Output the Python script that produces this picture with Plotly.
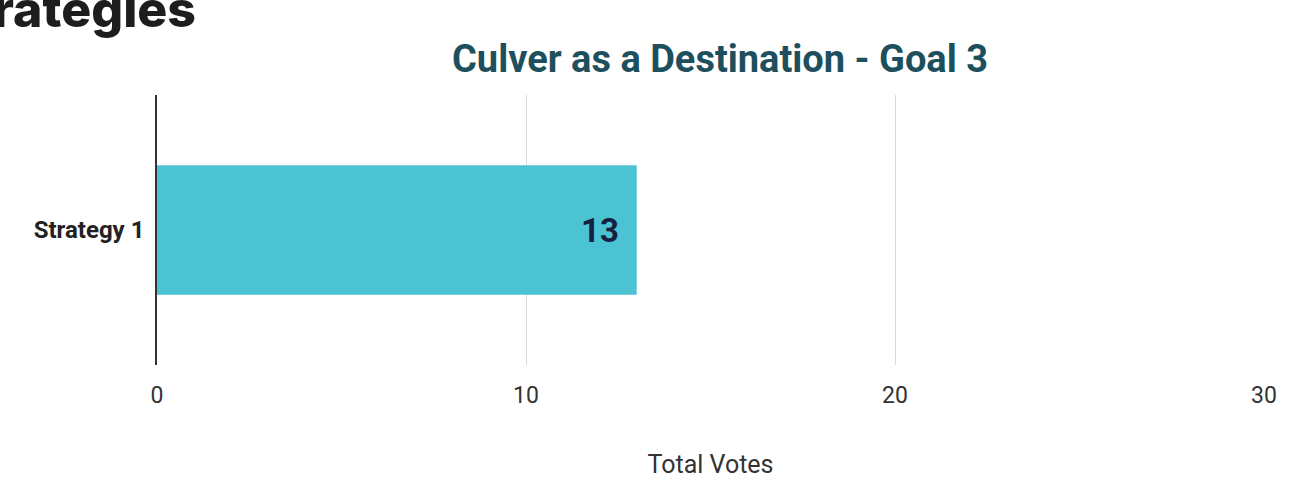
import plotly.graph_objects as go

# Votes per strategy for Goal 3
strategies = ["Strategy 1"]
votes = [13]
x_ticks = [0, 10, 20, 30]

W, H = 1294, 502
M_L, M_R, M_T, M_B = 157, 30, 95, 137
PLOT_W = W - M_L - M_R
PLOT_H = H - M_T - M_B

fig = go.Figure(
    go.Bar(
        x=votes,
        y=strategies,
        orientation="h",
        marker=dict(color="#4cc3d3", line=dict(width=0)),
        hoverinfo="x+y",
    )
)

# Value labels placed just inside the end of each bar
for s, v in zip(strategies, votes):
    fig.add_annotation(
        x=v,
        y=s,
        xref="x",
        yref="y",
        text=f"<b>{v}</b>",
        xanchor="right",
        yanchor="middle",
        xshift=-16,
        showarrow=False,
        font=dict(family="Roboto", size=33, color="#17203f", weight=900),
    )

fig.update_layout(
    width=W,
    height=H,
    margin=dict(l=M_L, r=M_R, t=M_T, b=M_B),
    paper_bgcolor="white",
    plot_bgcolor="white",
    bargap=0.52,
    showlegend=False,
    font=dict(family="Roboto", color="#444444"),
    title=dict(
        text="<b>Culver as a Destination - Goal 3</b>",
        font=dict(family="Roboto", size=38, color="#1d4f5c"),
        x=(720 - M_L) / PLOT_W,
        xanchor="center",
        xref="paper",
        y=1 - 59 / H,
        yref="container",
        yanchor="middle",
    ),
    xaxis=dict(
        range=[0, 30],
        tickvals=x_ticks,
        showgrid=True,
        gridcolor="#d9d9d9",
        gridwidth=1,
        zeroline=False,
        showline=False,
        ticks="",
        tickfont=dict(family="Roboto", size=23, color="#333333"),
        ticklabelstandoff=14,
        title=dict(
            text="Total Votes",
            font=dict(family="Roboto", size=25, color="#333333"),
            standoff=47,
        ),
    ),
    yaxis=dict(
        showline=True,
        linecolor="#333333",
        linewidth=1.5,
        showgrid=False,
        ticks="",
        tickfont=dict(family="Roboto", size=24, color="#222222", weight="bold"),
        ticklabelstandoff=6,
    ),
)

# Page heading, partially running off the left edge
fig.add_annotation(
    text="Strategies",
    xref="paper",
    yref="paper",
    x=(198 - M_L) / PLOT_W,
    y=1 + (M_T - 9) / PLOT_H,
    xanchor="right",
    yanchor="middle",
    showarrow=False,
    font=dict(family="Inter", size=50, color="#1e1c1e", weight=800),
)

fig.write_html("out.html")
